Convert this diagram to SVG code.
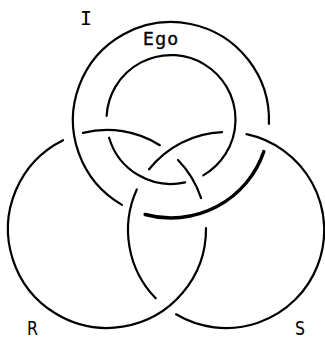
<svg xmlns="http://www.w3.org/2000/svg" width="325" height="339" viewBox="0 0 325 339">
  <style>
    .ring { fill: none; stroke: #000; stroke-width: 2.2; stroke-linecap: round; }
    .thick { stroke-width: 3.4; }
    .lbl { fill: #000; font-family: "DejaVu Sans", "Liberation Sans", sans-serif; }
  </style>
  <rect x="0" y="0" width="325" height="339" fill="#fff"/>
  <g id="ring-I">
    <path class="ring" d="M122,204.9 A98,98 0 1 1 268.9,123.9"/>
    <path class="ring thick" d="M263.8,151.6 A98,98 0 0 1 145.1,214.5"/>
  </g>
  <g id="ring-Ego">
    <path class="ring" d="M106.6,116 A64.5,64.5 0 1 1 203.25,175.4"/>
    <path class="ring" d="M109.1,137.7 A64.5,64.5 0 0 0 185.1,182.4"/>
  </g>
  <g id="ring-R">
    <path class="ring" d="M83,132.9 A99,99 0 0 1 159.8,145.2"/>
    <path class="ring" d="M178,160 A99,99 0 0 1 201.1,198.2"/>
    <path class="ring" d="M206,228 A99,99 0 1 1 63.1,140.2"/>
  </g>
  <g id="ring-S">
    <path class="ring" d="M246.5,134.2 A98,98 0 1 1 176.1,314.3"/>
    <path class="ring" d="M155.7,298.3 A98,98 0 0 1 136.8,189.5"/>
    <path class="ring" d="M149.1,169.3 A98,98 0 0 1 222.1,132.1"/>
  </g>
  <g id="labels">
    <text class="lbl" x="86" y="25" font-size="20" text-anchor="middle" style="font-family:'DejaVu Sans Mono', monospace">I</text>
    <text class="lbl" x="143" y="45" font-size="17" letter-spacing="1.5" stroke="#000" stroke-width="0.4">Ego</text>
    <text class="lbl" x="27" y="335" font-size="19" textLength="11" lengthAdjust="spacingAndGlyphs">R</text>
    <text class="lbl" x="295" y="335" font-size="19" textLength="10" lengthAdjust="spacingAndGlyphs">S</text>
  </g>
</svg>
